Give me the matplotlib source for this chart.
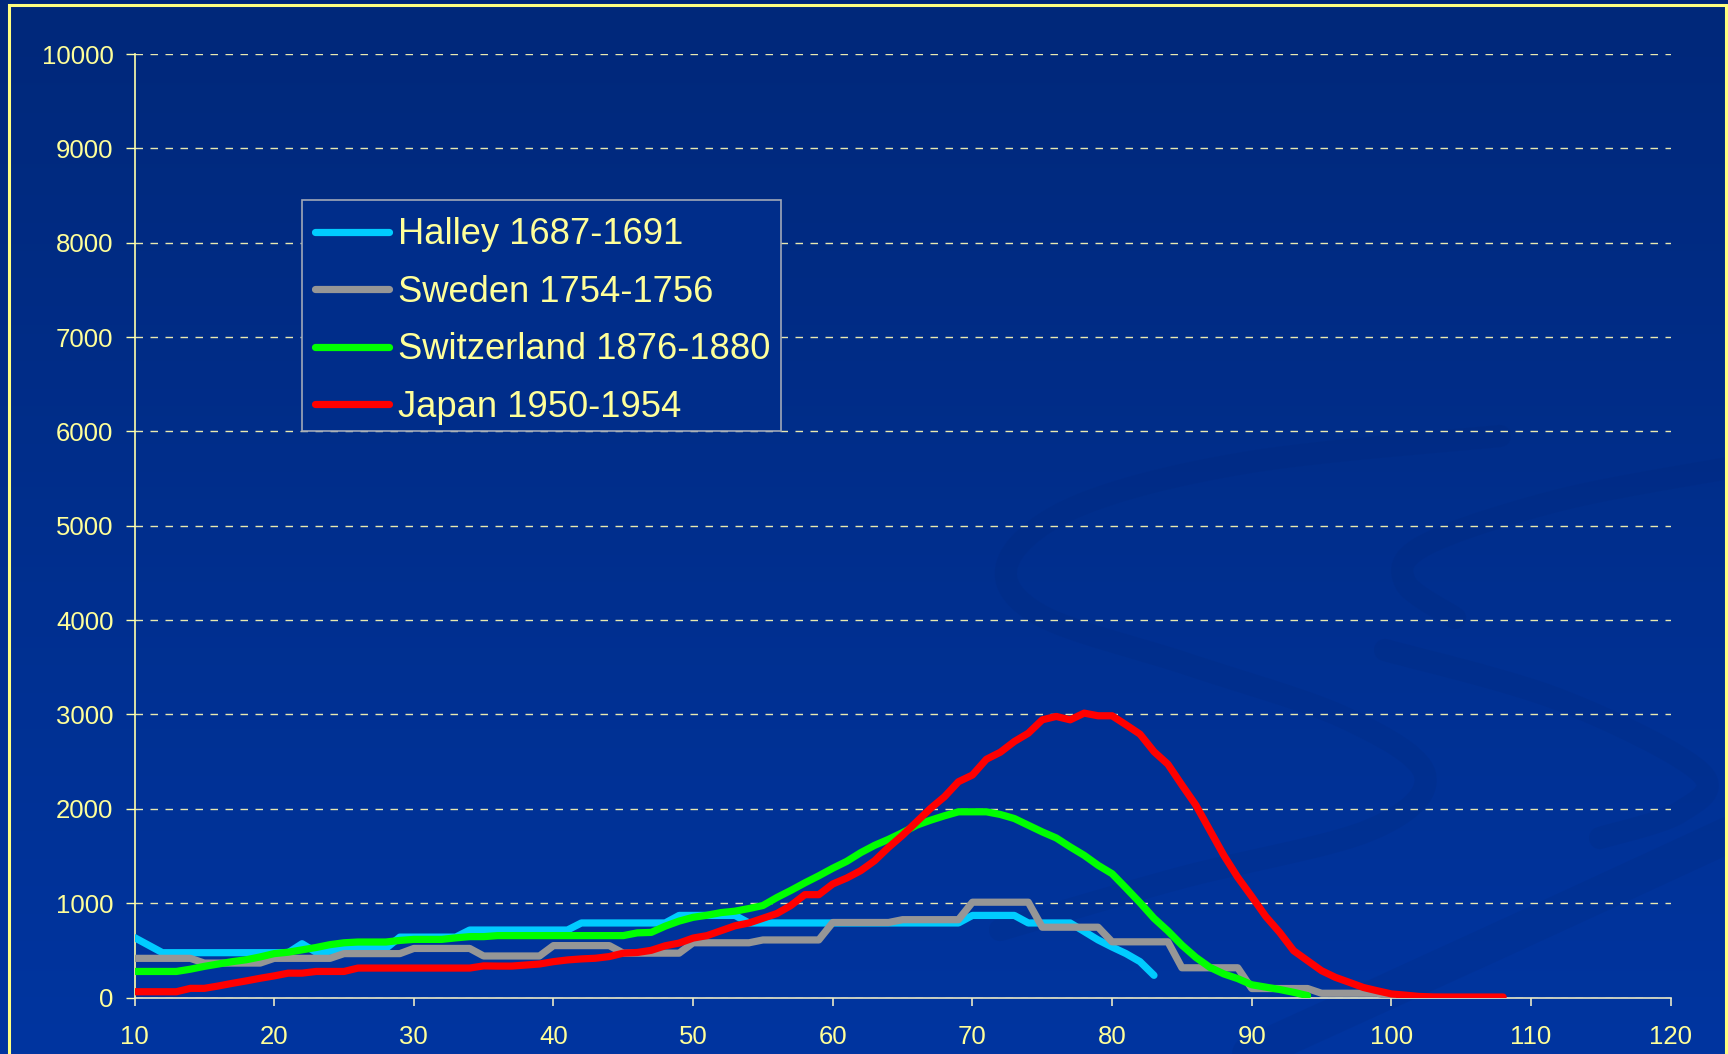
import numpy as np
import matplotlib
matplotlib.use("Agg")
import matplotlib.pyplot as plt
from matplotlib.patches import Rectangle

plt.rcParams['font.family'] = ['Liberation Sans', 'DejaVu Sans']
plt.rcParams['lines.scale_dashes'] = False

# deaths per age
halley = [635, 555, 475, 475, 475, 475, 475, 475, 475, 475, 475, 475,
          570, 480, 490, 520, 520, 520, 520, 640, 640, 640, 640, 640,
          715, 715, 715, 715, 715, 715, 715, 715, 790, 790, 790, 790,
          790, 790, 790, 870, 870, 870, 870, 870, 790, 790, 790, 790,
          790, 790, 790, 790, 790, 790, 790, 790, 790, 790, 790, 790,
          870, 870, 870, 870, 790, 790, 790, 790, 700, 610, 535, 465,
          380, 235]
sweden = [415, 415, 415, 415, 415, 365, 365, 365, 365, 365,
          415, 415, 415, 415, 415, 465, 465, 465, 465, 465,
          520, 520, 520, 520, 520, 440, 440, 440, 440, 440,
          550, 550, 550, 550, 550, 470, 470, 470, 470, 470,
          580, 580, 580, 580, 580, 610, 610, 610, 610, 610,
          795, 795, 795, 795, 795, 825, 825, 825, 825, 825,
          1010, 1010, 1010, 1010, 1010, 745, 745, 745, 745, 745,
          590, 590, 590, 590, 590, 315, 315, 315, 315, 315,
          95, 95, 95, 95, 95, 45, 45, 45, 45, 45, 5]
switzerland = [276, 276, 276, 276, 300, 330, 355, 380, 400, 430,
               465, 480, 505, 530, 560, 580, 588, 588, 588, 605,
               616, 616, 616, 632, 645, 645, 656, 656, 656, 656,
               656, 656, 656, 656, 656, 656, 685, 690, 756, 810,
               850, 872, 900, 915, 943, 975, 1060, 1135, 1215, 1290,
               1370, 1443, 1535, 1613, 1677, 1748, 1826, 1879, 1926, 1968,
               1968, 1968, 1940, 1897, 1826, 1755, 1691, 1596, 1507, 1401,
               1312, 1160, 1005, 840, 705, 555, 425, 320, 250, 200,
               135, 110, 85, 55, 20]
japan = [61, 61, 61, 61, 97, 97, 122, 150, 176, 204,
         229, 258, 258, 276, 276, 276, 312, 312, 312, 312,
         312, 312, 312, 312, 312, 335, 333, 333, 344, 355,
         380, 398, 409, 416, 434, 470, 477, 500, 548, 577,
         630, 656, 708, 760, 790, 840, 890, 975, 1090, 1090,
         1203, 1266, 1344, 1450, 1592, 1720, 1862, 2004, 2128, 2287,
         2358, 2525, 2600, 2713, 2801, 2943, 2979, 2943, 3014, 2986,
         2986, 2890, 2791, 2606, 2472, 2252, 2039, 1773, 1507, 1273,
         1070, 860, 690, 496, 390, 284, 213, 160, 106, 71,
         38, 25, 11, 6, 5, 5, 5, 5, 5]

labels = ["Halley 1687-1691", "Sweden 1754-1756",
          "Switzerland 1876-1880", "Japan 1950-1954"]
colors = ["#00CCFF", "#969696", "#00FF00", "#FF0000"]
series = [halley, sweden, switzerland, japan]

x_ticks = list(range(10, 121, 10))
y_ticks = list(range(0, 10001, 1000))

txt = "#FFFF99"
W, H = 1728, 1054

fig = plt.figure(figsize=(W / 100, H / 100), dpi=100)

# background: gradient + faint swirls
bg = fig.add_axes([0, 0, 1, 1])
bg.set_axis_off()
top = np.array([0, 40, 122]) / 255
bot = np.array([0, 53, 160]) / 255
t = np.linspace(0, 1, 256)[:, None]
grad = (top[None, :] * (1 - t) + bot[None, :] * t)[:, None, :]
bg.imshow(grad, extent=(0, W, H, 0), aspect='auto', interpolation='bilinear')
bg.set_xlim(0, W)
bg.set_ylim(H, 0)


def smooth(pts, n=30):
    p = np.array(pts, dtype=float)
    p = np.vstack([p[0], p, p[-1]])
    out = []
    for i in range(1, len(p) - 2):
        p0, p1, p2, p3 = p[i - 1], p[i], p[i + 1], p[i + 2]
        for s in np.linspace(0, 1, n, endpoint=False):
            out.append(0.5 * ((2 * p1) + (-p0 + p2) * s
                              + (2 * p0 - 5 * p1 + 4 * p2 - p3) * s ** 2
                              + (-p0 + 3 * p1 - 3 * p2 + p3) * s ** 3))
    out.append(p[-2])
    return np.array(out)


swirls = [
    ([(1500, 436), (1250, 462), (1080, 505), (1008, 562), (1040, 615),
      (1190, 665), (1345, 718), (1425, 775), (1370, 830), (1180, 878),
      (1000, 930)], 16),
    ([(1728, 468), (1560, 500), (1425, 545), (1405, 582), (1455, 618)], 16),
    ([(1385, 650), (1560, 700), (1700, 772), (1680, 812), (1600, 838)], 16),
    ([(1250, 1054), (1500, 940), (1728, 835)], 26),
]
for pts, lw in swirls:
    c = smooth(pts)
    bg.plot(c[:, 0], c[:, 1], color="#00246e", alpha=0.13, lw=lw,
            solid_capstyle='round')

# slide border
fig.patches.append(Rectangle((9 / W, -0.02), (1726 - 9) / W, 1.02 - 5 / H,
                             transform=fig.transFigure, fill=False,
                             edgecolor="#FFFF80", lw=2.2, zorder=5))

ax = fig.add_axes([134.5 / W, 1 - 997.5 / H, (1670.7 - 134.5) / W,
                   (997.5 - 54) / H])
ax.set_facecolor('none')

for vals, lab, col in zip(series, labels, colors):
    ages = np.arange(10, 10 + len(vals))
    ax.plot(ages, vals, color=col, lw=5.2, label=lab,
            solid_joinstyle='round', solid_capstyle='round', zorder=3)

ax.set_xlim(10, 120)
ax.set_ylim(0, 10000)
ax.set_xticks(x_ticks)
ax.set_yticks(y_ticks)
ax.yaxis.grid(True, color="#E8E8B0", lw=1.0, linestyle=(0, (5.4, 5.4)))
ax.set_axisbelow(True)

for s in ['top', 'right']:
    ax.spines[s].set_visible(False)
ax.spines['left'].set_color("#FFFFAA")
ax.spines['bottom'].set_color("#E8E8C8")
ax.spines['left'].set_linewidth(1.2)
ax.spines['bottom'].set_linewidth(1.2)

ax.tick_params(axis='x', colors="#E8E8C8", labelcolor=txt, labelsize=18.5,
               length=5.8, width=1.2, pad=14, direction='out')
ax.tick_params(axis='y', colors="#FFFFAA", labelcolor=txt, labelsize=18.5,
               length=6.5, width=1.0, pad=8.6, direction='out')

# legend box drawn separately (opaque, hides the grid behind it)
ax.add_patch(Rectangle((302 / W, 1 - 431 / H), (780.6 - 302) / W,
                       (431 - 200) / H, transform=fig.transFigure,
                       facecolor="#002d8a", edgecolor="#A0A8B8", lw=1.2,
                       zorder=2.5))
leg = ax.legend(loc='upper left', bbox_to_anchor=(302 / W, 1 - 204.5 / H),
                bbox_transform=fig.transFigure, borderaxespad=0,
                fontsize=26.2, handlelength=2.05, handletextpad=0.25,
                labelspacing=0.62, borderpad=0.35, frameon=False)
for tx in leg.get_texts():
    tx.set_color(txt)

fig.savefig('out.png', dpi=100)
